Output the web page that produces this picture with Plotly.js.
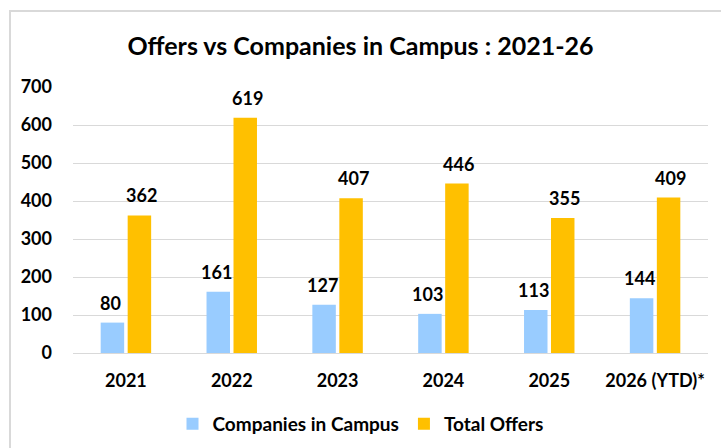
<!DOCTYPE html>
<html>
<head>
<meta charset="utf-8">
<script src="https://cdn.plot.ly/plotly-3.0.1.min.js"></script>
<style>
  html, body { margin: 0; padding: 0; background: #fff; }
  #wrap { position: relative; width: 721px; height: 448px; overflow: hidden; }
  #chart { width: 721px; height: 448px; }
  #frame { position: absolute; left: 9px; top: 10px; width: 730px; height: 460px;
           border: 2px solid #d9d9d9; box-sizing: border-box; pointer-events: none; }
</style>
</head>
<body>
<div id="wrap">
  <div id="chart"></div>
  <div id="frame"></div>
</div>
<script>
const years = ["2021", "2022", "2023", "2024", "2025", "2026 (YTD)*"];
const companies = [80, 161, 127, 103, 113, 144];
const offers = [362, 619, 407, 446, 355, 409];
const seriesNames = ["Companies in Campus", "Total Offers"];
const seriesColors = ["#99ccff", "#ffc000"];

const FONT = "Lato, 'Open Sans', sans-serif";

const traces = [
  { type: "bar", name: seriesNames[0], x: years, y: companies,
    marker: { color: seriesColors[0] }, hoverinfo: "none" },
  { type: "bar", name: seriesNames[1], x: years, y: offers,
    marker: { color: seriesColors[1] }, hoverinfo: "none" }
];

// category axis: annotation x given as category index
const annotations = [];
years.forEach((yr, i) => {
  annotations.push({ x: i, y: companies[i], xref: "x", yref: "y", text: "<b>" + companies[i] + "</b>",
    showarrow: false, yanchor: "bottom", xshift: -15.5, yshift: 7,
    font: { family: FONT, size: 18, color: "#000" } });
  annotations.push({ x: i, y: offers[i], xref: "x", yref: "y", text: "<b>" + offers[i] + "</b>",
    showarrow: false, yanchor: "bottom", xshift: 15.5, yshift: 7,
    font: { family: FONT, size: 18, color: "#000" } });
});

const layout = {
  width: 721, height: 448,
  margin: { l: 73, r: 13, t: 87, b: 95, autoexpand: false },
  paper_bgcolor: "#fff", plot_bgcolor: "#fff",
  barmode: "group", bargap: 0.49, bargroupgap: 0.13,
  title: { text: "<b>Offers vs Companies in Campus : 2021-26</b>",
    font: { family: FONT, size: 25, color: "#000" }, x: 0.5, xanchor: "center", y: 0.897, yanchor: "middle" },
  xaxis: { type: "category", range: [-0.5, years.length - 0.5], autorange: false,
    showgrid: false, showline: false, ticks: "", ticklabelstandoff: 15,
    tickfont: { family: FONT, size: 18, color: "#000", weight: "bold" } },
  yaxis: { range: [0, 700], autorange: false, dtick: 100, showgrid: true, gridcolor: "#d9d9d9", gridwidth: 1,
    zeroline: true, zerolinecolor: "#d9d9d9", zerolinewidth: 1, showline: false, ticks: "",
    ticklabelstandoff: 20,
    tickfont: { family: FONT, size: 18, color: "#000", weight: "bold" } },
  legend: { orientation: "h", x: 0.5, xanchor: "center", xref: "container",
    y: 0.054, yanchor: "middle", yref: "container",
    font: { family: FONT, size: 19, color: "#000", weight: "bold" }, traceorder: "normal" },
  annotations: annotations,
  showlegend: true
};

Plotly.newPlot("chart", traces, layout, { displayModeBar: false, staticPlot: true });
</script>
</body>
</html>
